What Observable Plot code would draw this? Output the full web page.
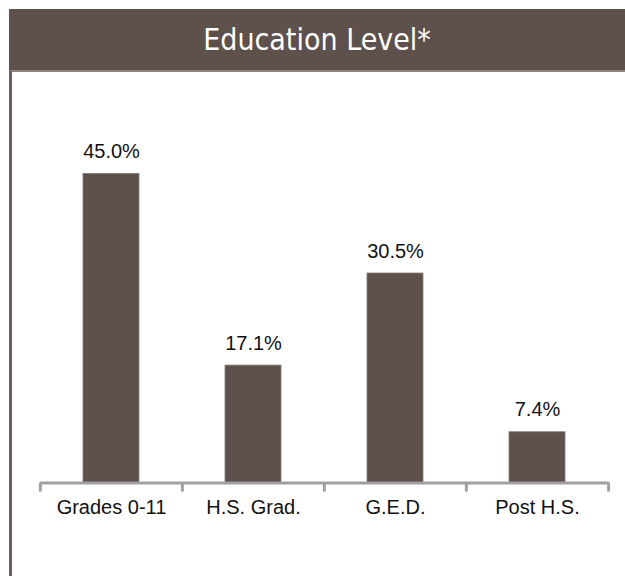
<!DOCTYPE html>
<html><head><meta charset="utf-8">
<script src="https://cdn.jsdelivr.net/npm/d3@7"></script>
<script src="https://cdn.jsdelivr.net/npm/@observablehq/plot@0.6"></script>
<style>
body{margin:0;background:#fff;width:625px;height:577px;position:relative;overflow:hidden;font-family:"Liberation Sans",Arial,sans-serif}
#title{position:absolute;left:9px;top:9px;width:616px;height:61px;background:#5e514c;color:#fff;font-family:"DejaVu Sans Condensed","DejaVu Sans",sans-serif;font-stretch:condensed;font-size:30px;display:flex;align-items:center;justify-content:center;border-bottom:2px solid #8c8481;box-sizing:content-box}
#side{position:absolute;left:9px;top:71px;width:2.5px;height:505px;background:#6b605b}
#chart{position:absolute;left:0;top:71px}
</style></head><body>
<div id="title">Education Level*</div>
<div id="side"></div>
<div id="chart"></div>
<script>
const categories = ["Grades 0-11", "H.S. Grad.", "G.E.D.", "Post H.S."];
const values = [45.0, 17.1, 30.5, 7.4];
const valueLabels = ["45.0%", "17.1%", "30.5%", "7.4%"];

const data = categories.map((c, i) => ({category: c, value: values[i], label: valueLabels[i]}));
const W = 625, H = 506, ML = 40, MR = 16;
const step = (W - ML - MR) / categories.length;
const axisColor = "#a0a0a0";

const chart = Plot.plot({
  width: W, height: H,
  marginTop: 68, marginBottom: 94.4, marginLeft: ML, marginRight: MR,
  style: {fontFamily: '"Liberation Sans", Arial, sans-serif', fontSize: "20px", color: "#000", background: "transparent"},
  x: {domain: categories, paddingInner: 0.605, paddingOuter: 0.3025, label: null},
  y: {domain: [0, 50], axis: null},
  marks: [
    Plot.barY(data, {x: "category", y: "value", fill: "#5e514c", stroke: "#857a76", strokeWidth: 0.8}),
    Plot.ruleY([0], {stroke: axisColor, strokeWidth: 3}),
    Plot.ruleX(categories, {x: d => d, y1: 0, y2: 0, insetBottom: -9, dx: -step / 2, stroke: axisColor, strokeWidth: 3}),
    Plot.ruleX([categories[categories.length - 1]], {x: d => d, y1: 0, y2: 0, insetBottom: -9, dx: step / 2, stroke: axisColor, strokeWidth: 3}),
    Plot.axisX({tickSize: 0, tickPadding: 17, fontSize: 20, fill: "#111"}),
    Plot.text(data, {x: "category", y: "value", text: "label", dy: -16, lineAnchor: "bottom", fontSize: 20, fill: "#111"})
  ]
});
document.getElementById("chart").appendChild(chart);
</script>
</body></html>
